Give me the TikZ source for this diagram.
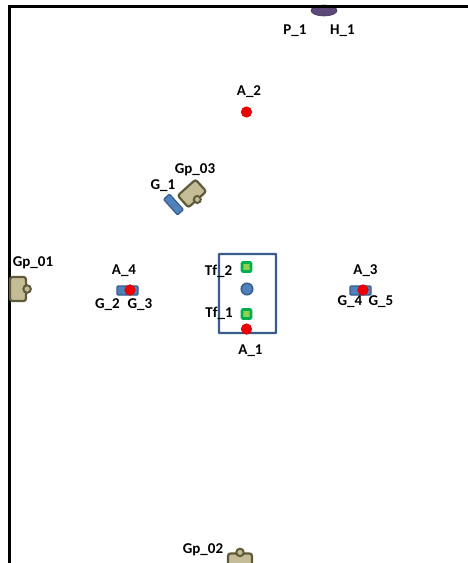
\documentclass[tikz,border=0pt]{standalone}
\usetikzlibrary{shapes.geometric}
\usepackage{fontspec}
\setmainfont{Carlito}[BoldFont={Carlito Bold}]
\definecolor{tan}{HTML}{C4BC96}
\definecolor{tanline}{HTML}{5F5A3A}
\definecolor{bluefill}{HTML}{4F81BD}
\definecolor{blueline}{HTML}{385D8A}
\definecolor{redfill}{HTML}{F00000}
\definecolor{redline}{HTML}{D00010}
\definecolor{greenfill}{HTML}{92D050}
\definecolor{greenline}{HTML}{00B050}
\definecolor{purplefill}{HTML}{5F497A}
\definecolor{purpleline}{HTML}{403152}
\tikzset{
  lbl/.style={font=\fontsize{15}{15}\selectfont\bfseries, inner sep=0pt, text=black},
  gripbody/.style={draw=tanline, fill=tan, line width=2.2pt, rounded corners=2.5pt, minimum width=16pt, minimum height=24pt, inner sep=0pt},
  gripknob/.style={circle, draw=tanline, fill=tan, line width=2pt, minimum size=7.5pt, inner sep=0pt},
  gripbar/.style={rectangle, draw=blueline, fill=bluefill, line width=1.2pt, rounded corners=1pt, inner sep=0pt},
  reddot/.style={circle, draw=redline, fill=redfill, line width=0.6pt, minimum size=10.5pt, inner sep=0pt},
  bluedot/.style={circle, draw=blueline, fill=bluefill, line width=1.5pt, minimum size=11.5pt, inner sep=0pt},
  greensq/.style={rectangle, draw=greenline, fill=greenfill, line width=2.6pt, rounded corners=1pt, minimum size=9pt, inner sep=0pt},
  framebox/.style={rectangle, draw=blueline, line width=2.4pt, rounded corners=0.5pt, minimum width=57pt, minimum height=79pt, inner sep=0pt},
  wall/.style={draw=black, line width=2.2pt}
}
\begin{document}
\begin{tikzpicture}[x=1pt,y=-1pt]
\useasboundingbox (0,0) rectangle (468,563);
\fill[white] (0,0) rectangle (468,563);
\clip (0,0) rectangle (468,563);
% hatch
\node[draw=purpleline, fill=purplefill, ellipse, line width=0.6pt, minimum width=26pt, minimum height=11pt, inner sep=0pt] (h1) at (324,10.5) {};
% walls
\coordinate (wallTR) at (468,6.5);
\coordinate (wallTL) at (9.5,6.5);
\coordinate (wallBL) at (9.5,563);
\draw[wall] (wallTR) -- (wallTL) -- (wallBL);
% grippers
\node[gripknob] (gp1k) at (26,289) {};
\node[gripbody] (gp1) at (18,289) {};
\node[gripknob] at (gp1.east) {};
\node[gripbody, rotate=-48] (gp3) at (192,193.5) {};
\node[gripknob, minimum size=7pt] (gp3k) at ([shift={(-0.8,-0.8)}]gp3.east) {};
\node[gripbody, rotate=90] (gp2) at (240,561.5) {};
\node[gripknob] (gp2k) at (gp2.east) {};
% blue bars
\node[gripbar, rotate=-48, minimum width=21pt, minimum height=8pt] (g1) at (173.5,204.5) {};
\node[gripbar, minimum width=21pt, minimum height=9pt] (g23) at (127.5,290.5) {};
\node[gripbar, minimum width=21pt, minimum height=9pt] (g45) at (360.5,290.5) {};
% frame
\node[framebox] (a1box) at (247.5,293.5) {};
\node[greensq] (tf2) at (246.5,267) {};
\node[bluedot] (mid) at (247,289) {};
\node[greensq] (tf1) at (246.5,314) {};
\node[reddot] (a1) at (246.5,329) {};
\node[reddot] (a2) at (246.5,112) {};
\node[reddot] (a4) at (130,290) {};
\node[reddot] (a3) at (363,290) {};
% labels
\node[lbl] (lp1) at (295,30.5) {P\_1};
\node[lbl] (lh1) at (342.5,30.5) {H\_1};
\node[lbl] (la2) at (249,92) {A\_2};
\node[lbl] (lgp3) at (195,170) {Gp\_03};
\node[lbl] (lg1) at (163,185.5) {G\_1};
\node[lbl] (lgp1) at (33,263) {Gp\_01};
\node[lbl] (la4) at (124,271) {A\_4};
\node[lbl] (lg2) at (107.5,305) {G\_2};
\node[lbl] (lg3) at (140,305) {G\_3};
\node[lbl] (ltf2) at (218.5,271) {Tf\_2};
\node[lbl] (ltf1) at (219,313) {Tf\_1};
\node[lbl] (la1) at (250.5,351) {A\_1};
\node[lbl] (la3) at (365.5,271) {A\_3};
\node[lbl] (lg4) at (350,302) {G\_4};
\node[lbl] (lg5) at (381,302) {G\_5};
\node[lbl] (lgp2) at (203,550) {Gp\_02};
\end{tikzpicture}
\end{document}
